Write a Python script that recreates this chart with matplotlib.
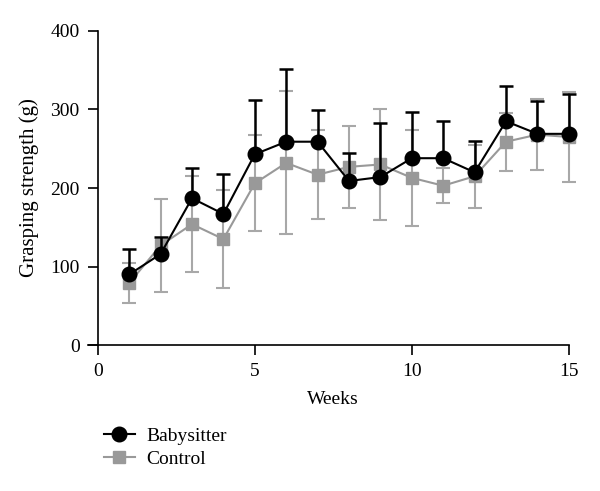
import numpy as np
import matplotlib.pyplot as plt
from matplotlib.lines import Line2D

plt.rcParams['font.family'] = ['Liberation Serif', 'DejaVu Serif']

weeks = np.arange(1, 16)
babysitter = [90, 116, 187, 167, 243, 259, 259, 209, 214, 238, 238, 220, 285, 269, 269]
babysitter_err = [32, 22, 38, 51, 69, 93, 40, 36, 69, 59, 47, 40, 45, 42, 51]
control = [79, 127, 154, 135, 206, 232, 217, 227, 230, 213, 203, 215, 259, 268, 265]
control_err = [25, 59, 61, 62, 61, 91, 57, 52, 71, 61, 22, 40, 37, 45, 57]

fig = plt.figure(figsize=(6, 4.91), dpi=100)
ax = fig.add_axes([0.163, 0.297, 0.785, 0.64])

eb1 = ax.errorbar(weeks, control, yerr=control_err, color='#999999', ecolor='#a8a8a8',
                  marker='s', markersize=9, linewidth=1.5, elinewidth=1.5, capsize=5,
                  capthick=1.5, zorder=2)
eb2 = ax.errorbar(weeks, babysitter, yerr=[np.zeros(len(babysitter)), babysitter_err],
                  color='black', marker='o', markersize=10.5, linewidth=1.5, elinewidth=1.8,
                  capsize=5, capthick=1.8, zorder=3)
for eb in (eb1, eb2):
    for art in eb.lines[0:1] + eb.lines[1] + eb.lines[2]:
        art.set_clip_on(False)

ax.set_xlim(0, 15)
ax.set_ylim(0, 400)
ax.set_xticks([0, 5, 10, 15])
ax.set_yticks([0, 100, 200, 300, 400])
ax.spines['top'].set_visible(False)
ax.spines['right'].set_visible(False)
ax.spines['left'].set_linewidth(1.2)
ax.spines['bottom'].set_linewidth(1.2)
ax.spines['bottom'].set_bounds(-0.3, 15)
ax.tick_params(direction='out', length=7, width=1.2, labelsize=14, pad=6)
ax.set_xlabel('Weeks', fontsize=14, labelpad=8)
ax.set_ylabel('Grasping strength (g)', fontsize=15, labelpad=8)

handles = [
    Line2D([], [], color='black', marker='o', markersize=10.5, linewidth=1.5),
    Line2D([], [], color='#999999', marker='s', markersize=9, linewidth=1.5),
]
fig.legend(handles, ['Babysitter', 'Control'], loc='upper left', bbox_to_anchor=(0.16, 0.145),
           frameon=False, fontsize=14, handlelength=1.6, labelspacing=0.25,
           borderaxespad=0, handletextpad=0.6)

fig.savefig('out.png', dpi=100)
